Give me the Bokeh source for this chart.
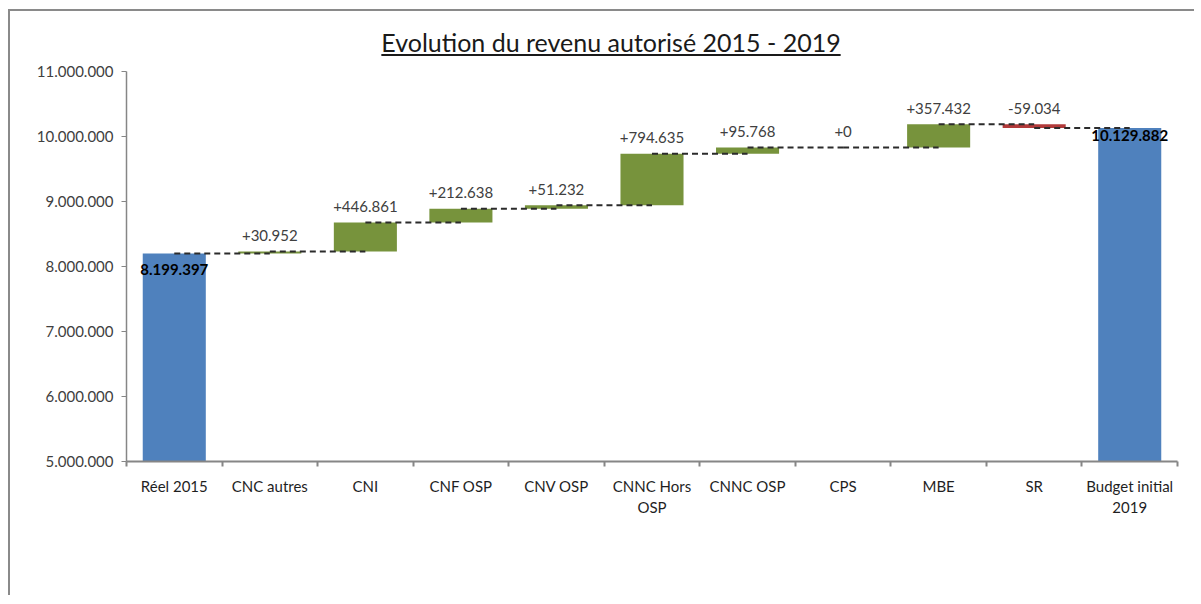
import numpy as np
from bokeh.plotting import figure
from bokeh.models import FixedTicker, CustomJSTickFormatter, Div, ColumnDataSource
from bokeh.layouts import column
from bokeh.embed import file_html
from bokeh.resources import INLINE

# ---------------- data ----------------
title_text = "Evolution du revenu autorisé 2015 - 2019"
categories = ["Réel 2015", "CNC autres", "CNI", "CNF OSP", "CNV OSP", "CNNC Hors\nOSP",
              "CNNC OSP", "CPS", "MBE", "SR", "Budget initial\n2019"]
start_total = 8199397
deltas = [30952, 446861, 212638, 51232, 794635, 95768, 0, 357432, -59034]
end_total = 10129882
y_ticks = [5000000, 6000000, 7000000, 8000000, 9000000, 10000000, 11000000]

FONT = "Lato"
BLUE = "#4F81BD"
GREEN = "#77933C"
RED = "#B23A3A"

n = len(categories)
centers = np.arange(n) + 0.5
bounds = np.arange(n + 1).astype(float)

cum = np.concatenate([[start_total], start_total + np.cumsum(deltas)])
d_start = cum[:-1]
d_end = cum[1:]
d_bottom = np.minimum(d_start, d_end)
d_top = np.maximum(d_start, d_end)
d_color = [GREEN if d >= 0 else RED for d in deltas]
d_label = [f"{d:+,}".replace(",", ".") for d in deltas]

def fmt(v):
    return f"{int(v):,}".replace(",", ".")

p = figure(width=1174, height=534, x_range=(0, n), y_range=(y_ticks[0], y_ticks[-1]),
           output_backend="svg", toolbar_location=None,
           min_border_left=116, min_border_right=7, min_border_top=10, min_border_bottom=134)
p.outline_line_color = None
p.xgrid.visible = False
p.ygrid.visible = False
p.background_fill_color = "white"
p.border_fill_color = "white"

# total bars
p.vbar(x=[centers[0], centers[-1]], top=[start_total, end_total], bottom=0, width=0.66,
       fill_color=BLUE, line_color=None)

# delta bars
src = ColumnDataSource(dict(x=centers[1:-1], top=d_top, bottom=d_bottom, color=d_color,
                            label=d_label))
p.vbar(x="x", top="top", bottom="bottom", width=0.66, fill_color="color", line_color=None,
       source=src)

# connector dashed lines
p.segment(x0=centers[:-1], x1=centers[1:], y0=cum, y1=cum, line_color="#2b2b2b",
          line_width=2, line_dash="6 4")

# delta labels
p.text(x="x", y="top", text="label", source=src, text_align="center", text_baseline="middle",
       y_offset=-16, text_font={"value": FONT}, text_font_size="15px",
       text_color="#404040")

# total labels
p.text(x=[centers[0]], y=[start_total], text=[fmt(start_total)], text_align="center",
       text_baseline="middle", y_offset=16, text_font={"value": FONT}, text_font_size="15px",
       text_font_style="bold", text_color="black")
p.text(x=[centers[-1]], y=[end_total], text=[fmt(end_total)], text_align="center",
       text_baseline="middle", y_offset=7, text_font={"value": FONT}, text_font_size="15px",
       text_font_style="bold", text_color="black")

# x axis
xa = p.xaxis[0]
xa.ticker = FixedTicker(ticks=list(centers), minor_ticks=list(bounds))
xa.major_label_overrides = {float(c): lab for c, lab in zip(centers, categories)}
xa.major_tick_line_color = None
xa.major_tick_out = 0
xa.major_tick_in = 0
xa.minor_tick_line_color = "#868686"
xa.minor_tick_line_width = 2
xa.minor_tick_out = 5
xa.minor_tick_in = 0
xa.axis_line_color = "#868686"
xa.axis_line_width = 2
xa.major_label_text_font = FONT
xa.major_label_text_font_size = "15px"
xa.major_label_text_color = "#1f1f1f"
xa.major_label_standoff = 10

# y axis
ya = p.yaxis[0]
ya.ticker = FixedTicker(ticks=y_ticks, minor_ticks=[])
ya.formatter = CustomJSTickFormatter(code='return Math.round(tick).toString().replace(/\\B(?=(\\d{3})+(?!\\d))/g, ".");')
ya.major_tick_out = 5
ya.major_tick_in = 0
ya.major_tick_line_color = "#868686"
ya.axis_line_color = "#868686"
ya.axis_line_width = 1.5
ya.major_label_text_font = FONT
ya.major_label_text_font_size = "15px"
ya.major_label_text_color = "#404040"
ya.major_label_standoff = 8

title = Div(text=f'<div style="width:1130px; text-align:center; padding-left:62px; padding-top:11px; '
                 f'font-family:{FONT}; font-size:25px; color:#1a1a1a; line-height:1.2;"><u>{title_text}</u></div>',
            width=1174, height=40)

layout = column(title, p, styles={"border-left": "2px solid #8a8a8a", "border-top": "2px solid #8a8a8a",
                                  "background-color": "white", "margin-left": "8px",
                                  "margin-top": "9px"})

open("out.html", "w").write(file_html(layout, INLINE))
